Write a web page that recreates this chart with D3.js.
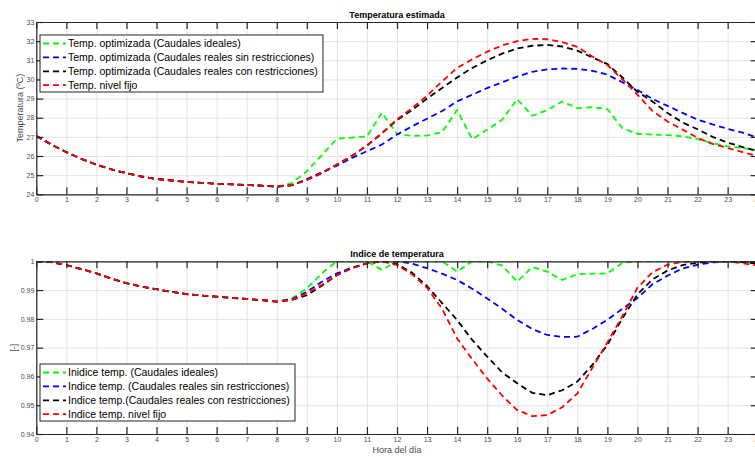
<!DOCTYPE html>
<html>
<head>
<meta charset="utf-8">
<script src="https://cdn.jsdelivr.net/npm/d3@7"></script>
<style>
  body { margin: 0; background: #fff; }
  text { font-family: "Liberation Sans", Arial, Helvetica, sans-serif; }
</style>
</head>
<body>
<div id="chart"></div>
<script>
// hours of the day (every half hour)
var hours = [0, 0.5, 1, 1.5, 2, 2.5, 3, 3.5, 4, 4.5, 5, 5.5, 6, 6.5, 7, 7.5, 8,
  8.5, 9, 9.5, 10, 10.5, 11, 11.5, 12, 12.5, 13, 13.5, 14, 14.5, 15, 15.5, 16,
  16.5, 17, 17.5, 18, 18.5, 19, 19.5, 20, 20.5, 21, 21.5, 22, 22.5, 23, 23.5, 24];

var hourTicks = [0, 1, 2, 3, 4, 5, 6, 7, 8, 9, 10, 11, 12, 13, 14, 15, 16, 17, 18, 19, 20, 21, 22, 23, 24];
var tempTicks = [24, 25, 26, 27, 28, 29, 30, 31, 32, 33];
var indexTicks = [0.94, 0.95, 0.96, 0.97, 0.98, 0.99, 1];

// night part (0h - 8h) is the same for every case
var tempNight = [27.05, 26.6, 26.2, 25.85, 25.55, 25.3, 25.1, 24.93, 24.8, 24.72, 24.65, 24.6, 24.55, 24.52, 24.49, 24.45, 24.4];
var indexNight = [1.0, 0.9997, 0.9987, 0.9973, 0.9958, 0.994, 0.9924, 0.9912, 0.9903, 0.9894, 0.9886, 0.9881, 0.9877, 0.9873, 0.9869, 0.9865, 0.986];

// 8.5h - 24h
var tempIdeal = tempNight.concat([24.58, 25.2, 26.05, 26.9, 26.96, 27.02, 28.27, 27.15, 27.05, 27.07, 27.25, 28.4, 26.88, 27.37, 27.9, 28.97,
  28.1, 28.4, 28.85, 28.5, 28.55, 28.45, 27.45, 27.16, 27.12, 27.09, 27.03, 26.88, 26.67, 26.5, 26.42, 26.3]);
var tempFree = tempNight.concat([24.47, 24.8, 25.15, 25.5, 25.9, 26.25, 26.6, 27.12, 27.55, 27.95, 28.35, 28.85, 29.2, 29.55, 29.85, 30.15,
  30.4, 30.53, 30.57, 30.55, 30.45, 30.25, 29.85, 29.45, 28.98, 28.62, 28.25, 27.9, 27.65, 27.42, 27.22, 26.95]);
var tempRestr = tempNight.concat([24.48, 24.75, 25.1, 25.55, 26.0, 26.55, 27.18, 27.88, 28.4, 29.0, 29.55, 30.1, 30.6, 31.0, 31.35, 31.62,
  31.76, 31.8, 31.72, 31.5, 31.15, 30.8, 30.1, 29.35, 28.85, 28.25, 27.75, 27.4, 27.0, 26.7, 26.47, 26.25]);
var tempFixed = tempNight.concat([24.48, 24.75, 25.12, 25.55, 26.0, 26.55, 27.2, 27.92, 28.5, 29.15, 29.9, 30.6, 31.05, 31.45, 31.78, 32.0,
  32.12, 32.1, 31.95, 31.7, 31.2, 30.75, 30.0, 29.2, 28.35, 27.8, 27.38, 26.95, 26.63, 26.42, 26.2, 26.0]);

var indexIdeal = indexNight.concat([0.9871, 0.9906, 0.9958, 1.0, 1.0, 1.0, 0.997, 1.0, 1.0, 1.0, 1.0, 0.9964, 1.0, 1.0, 0.9985, 0.9929,
  0.998, 0.9964, 0.9935, 0.9955, 0.9957, 0.9958, 0.9995, 1.0, 1.0, 1.0, 1.0, 1.0, 1.0, 1.0, 0.9998, 0.9993]);
var indexFree = indexNight.concat([0.9868, 0.9894, 0.9929, 0.9958, 0.9978, 0.9993, 1.0, 1.0, 0.9992, 0.9976, 0.9957, 0.9935, 0.9905, 0.9871, 0.9835, 0.9796,
  0.9765, 0.9744, 0.9737, 0.9738, 0.9765, 0.9797, 0.9835, 0.9872, 0.992, 0.995, 0.9975, 0.9988, 0.9996, 1.0, 1.0, 0.9998]);
var indexRestr = indexNight.concat([0.9866, 0.9882, 0.9915, 0.9952, 0.9976, 0.9993, 1.0, 0.999, 0.996, 0.9914, 0.9855, 0.9796, 0.9727, 0.9669, 0.9614, 0.9576,
  0.9543, 0.9535, 0.9552, 0.9582, 0.964, 0.971, 0.9802, 0.9885, 0.9937, 0.9968, 0.9987, 0.9995, 1.0, 1.0, 0.9997, 0.9992]);
var indexFixed = indexNight.concat([0.9866, 0.9889, 0.9918, 0.9952, 0.9976, 0.9993, 1.0, 0.9987, 0.9955, 0.9908, 0.9835, 0.9732, 0.966, 0.9593, 0.9533, 0.9483,
  0.9462, 0.9466, 0.9493, 0.9541, 0.963, 0.9718, 0.981, 0.9908, 0.9962, 0.9988, 0.9998, 1.0, 1.0, 1.0, 0.9993, 0.9985]);

var colors = ["#00ff00", "#0000ff", "#000000", "#ff0000"];
var tempLabels = ["Temp. optimizada (Caudales ideales)", "Temp. optimizada (Caudales reales sin restricciones)",
  "Temp. optimizada (Caudales reales con restricciones)", "Temp. nivel fijo"];
var indexLabels = ["Inidice temp. (Caudales ideales)", "Indice temp. (Caudales reales sin restricciones)",
  "Indice temp.(Caudales reales con restricciones)", "Indice temp. nivel fijo"];

// size of the page
var svgWidth = 755;
var svgHeight = 457;

var left = 36.3;
var right = 757.7;   // the last hour falls just outside the window

var svg = d3.select("#chart")
  .append("svg")
  .attr("width", svgWidth)
  .attr("height", svgHeight);

var xScale = d3.scaleLinear().domain([0, 24]).range([0, right - left]);

function drawPanel(cfg) {
  var width = right - left;
  var height = cfg.bottom - cfg.top;
  var g = svg.append("g").attr("transform", `translate(${left}, ${cfg.top})`);
  var yScale = d3.scaleLinear().domain(cfg.domain).range([height, 0]);

  // grid
  g.append("g")
    .attr("class", "grid")
    .attr("transform", `translate(0, ${height})`)
    .call(d3.axisBottom(xScale).tickValues(hourTicks).tickSize(-height).tickFormat(""));
  g.append("g")
    .attr("class", "grid")
    .call(d3.axisLeft(yScale).tickValues(cfg.ticks).tickSize(-width).tickFormat(""));
  g.selectAll(".grid line").attr("stroke", "#e3e3e3").attr("stroke-width", 1);
  g.selectAll(".grid .domain").remove();

  // lines
  var clipId = "clip" + Math.round(cfg.top);
  g.append("clipPath").attr("id", clipId)
    .append("rect").attr("width", width).attr("height", height);

  var line = d3.line()
    .x((d, i) => xScale(hours[i]))
    .y(d => yScale(d));

  g.append("g").attr("clip-path", `url(#${clipId})`)
    .selectAll("path")
    .data(cfg.series)
    .enter()
    .append("path")
    .attr("d", d => line(d))
    .attr("fill", "none")
    .attr("stroke", (d, i) => colors[i])
    .attr("stroke-width", 1.8)
    .attr("stroke-dasharray", "6,4");

  // axes with ticks inside the box
  var xAxis = g.append("g")
    .attr("transform", `translate(0, ${height})`)
    .call(d3.axisBottom(xScale).tickValues(hourTicks).tickSize(-7).tickSizeOuter(0).tickPadding(3));
  var yAxis = g.append("g")
    .call(d3.axisLeft(yScale).tickValues(cfg.ticks).tickSize(-7).tickSizeOuter(0).tickPadding(2)
      .tickFormat(cfg.format));
  g.append("g")
    .call(d3.axisTop(xScale).tickValues(hourTicks).tickSize(-7).tickSizeOuter(0).tickFormat(""));
  g.append("g")
    .attr("transform", `translate(${width}, 0)`)
    .call(d3.axisRight(yScale).tickValues(cfg.ticks).tickSize(-7).tickSizeOuter(0).tickFormat(""));

  g.selectAll(".domain").attr("stroke", "#262626").attr("stroke-width", 1.2);
  g.selectAll(".tick line").filter(function() { return !this.closest(".grid"); })
    .attr("stroke", "#262626").attr("stroke-width", 1.2);
  xAxis.selectAll("text").attr("font-size", 7).attr("fill", "#4a4a4a");
  yAxis.selectAll("text").attr("font-size", 7).attr("fill", "#4a4a4a");

  // title
  svg.append("text")
    .attr("x", 397)
    .attr("y", cfg.top - 4)
    .attr("text-anchor", "middle")
    .attr("font-size", 9)
    .attr("font-weight", "bold")
    .attr("fill", "#000")
    .text(cfg.title);

  // y label
  svg.append("text")
    .attr("transform", `translate(${cfg.ylabelX}, ${(cfg.top + cfg.bottom) / 2}) rotate(-90)`)
    .attr("text-anchor", "middle")
    .attr("dy", "0.35em")
    .attr("font-size", 9)
    .attr("fill", "#4a4a4a")
    .text(cfg.ylabel);

  // legend
  var lg = svg.append("g").attr("transform", `translate(${cfg.legend.x}, ${cfg.legend.y})`);
  lg.append("rect")
    .attr("width", cfg.legend.w)
    .attr("height", 57)
    .attr("fill", "#fff")
    .attr("stroke", "#262626")
    .attr("stroke-width", 1);
  cfg.labels.forEach(function(label, i) {
    var cy = 8.5 + i * 13.9;
    lg.append("line")
      .attr("x1", 3).attr("x2", 26)
      .attr("y1", cy).attr("y2", cy)
      .attr("stroke", colors[i])
      .attr("stroke-width", 1.8)
      .attr("stroke-dasharray", "6,4");
    lg.append("text")
      .attr("x", 28)
      .attr("y", cy)
      .attr("dy", "0.35em")
      .attr("font-size", 10.5)
      .attr("fill", "#000")
      .text(label);
  });
}

drawPanel({
  top: 22, bottom: 194.3,
  domain: [24, 33], ticks: tempTicks, format: d3.format("d"),
  series: [tempIdeal, tempFree, tempRestr, tempFixed],
  title: "Temperatura estimada",
  ylabel: "Temperatura (ºC)", ylabelX: 20,
  labels: tempLabels,
  legend: { x: 40, y: 35, w: 283 }
});

drawPanel({
  top: 261.3, bottom: 434,
  domain: [0.94, 1], ticks: indexTicks, format: d => d === 1 ? "1" : d3.format(".2f")(d),
  series: [indexIdeal, indexFree, indexRestr, indexFixed],
  title: "Indice de temperatura",
  ylabel: "[-]", ylabelX: 14,
  labels: indexLabels,
  legend: { x: 40, y: 364, w: 255 }
});

// x label
svg.append("text")
  .attr("x", 397)
  .attr("y", 453)
  .attr("text-anchor", "middle")
  .attr("font-size", 9)
  .attr("fill", "#4a4a4a")
  .text("Hora del día");
</script>
</body>
</html>
